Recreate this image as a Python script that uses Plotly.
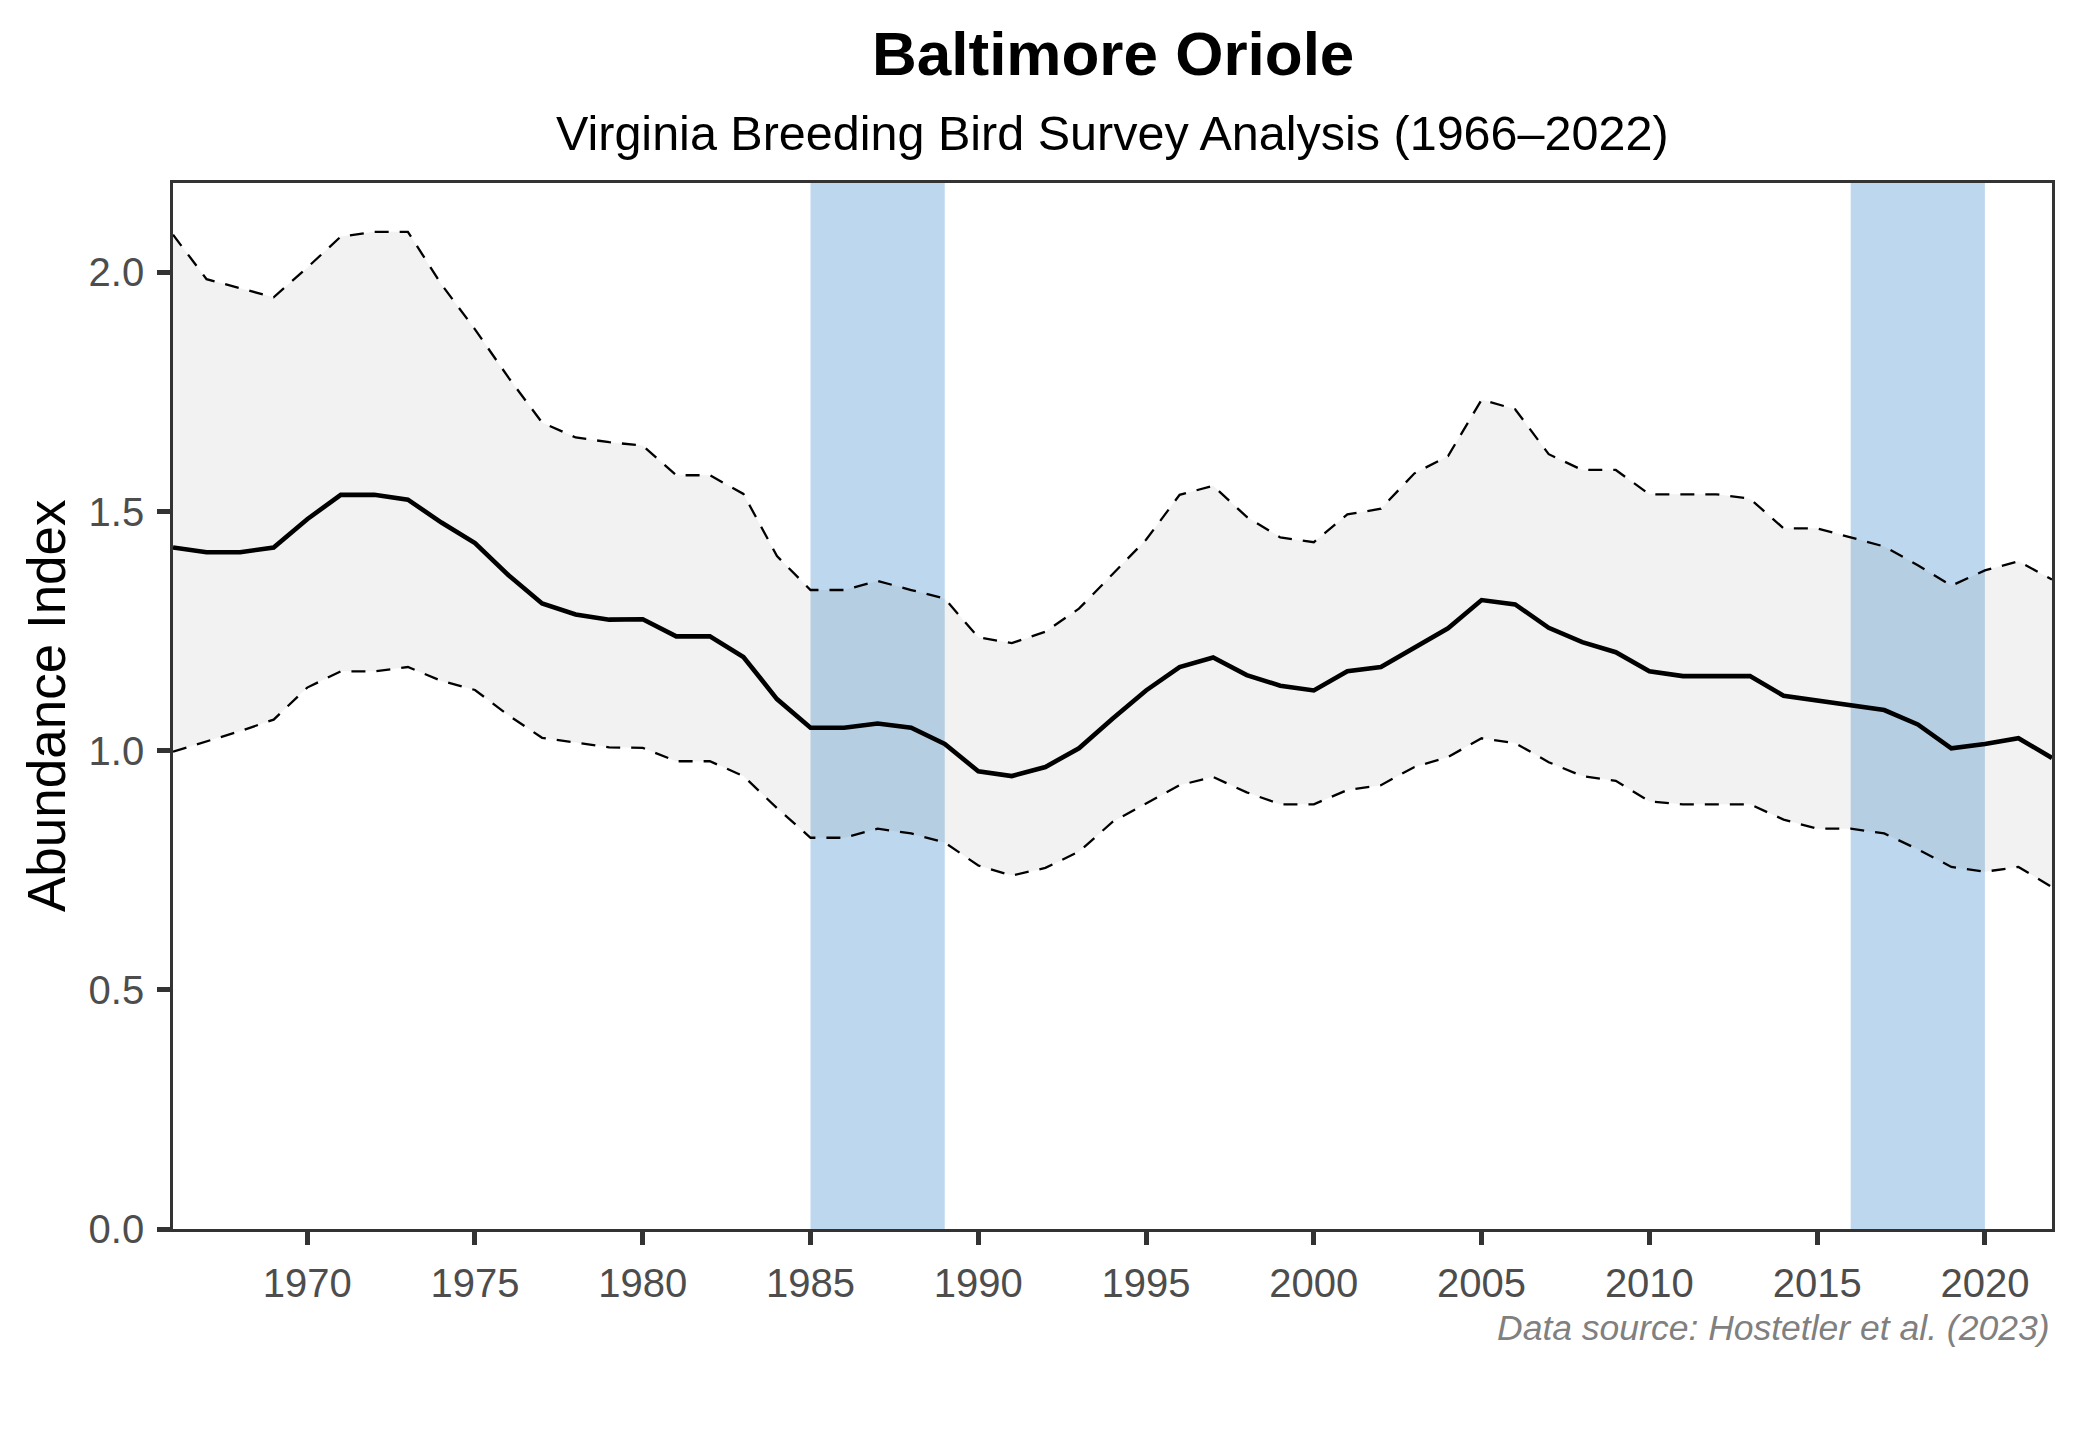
import plotly.graph_objects as go

years = list(range(1966, 2023))

index_vals = [1.425, 1.415, 1.415, 1.425, 1.484, 1.535, 1.535, 1.525, 1.477, 1.434,
              1.367, 1.308, 1.285, 1.274, 1.275, 1.239, 1.239, 1.196, 1.108, 1.048,
              1.048, 1.057, 1.048, 1.014, 0.957, 0.947, 0.966, 1.005, 1.067, 1.126,
              1.175, 1.195, 1.158, 1.136, 1.126, 1.166, 1.175, 1.216, 1.256, 1.315,
              1.306, 1.257, 1.227, 1.206, 1.166, 1.156, 1.156, 1.156, 1.115, 1.105,
              1.095, 1.085, 1.055, 1.005, 1.014, 1.026, 0.985]

upper_vals = [2.079, 1.986, 1.967, 1.948, 2.010, 2.075, 2.085, 2.085, 1.975, 1.881,
              1.780, 1.686, 1.655, 1.645, 1.638, 1.576, 1.576, 1.537, 1.407, 1.336,
              1.336, 1.355, 1.336, 1.318, 1.237, 1.225, 1.249, 1.297, 1.369, 1.441,
              1.535, 1.554, 1.489, 1.446, 1.436, 1.494, 1.506, 1.580, 1.616, 1.734,
              1.714, 1.620, 1.587, 1.587, 1.536, 1.536, 1.536, 1.527, 1.465, 1.465,
              1.446, 1.427, 1.388, 1.345, 1.377, 1.396, 1.358]

lower_vals = [0.998, 1.020, 1.041, 1.065, 1.132, 1.166, 1.166, 1.175, 1.146, 1.127,
              1.074, 1.027, 1.017, 1.007, 1.006, 0.978, 0.978, 0.947, 0.880, 0.818,
              0.818, 0.837, 0.827, 0.808, 0.760, 0.739, 0.755, 0.789, 0.851, 0.889,
              0.928, 0.945, 0.913, 0.888, 0.888, 0.918, 0.928, 0.966, 0.987, 1.026,
              1.016, 0.976, 0.947, 0.937, 0.894, 0.888, 0.888, 0.888, 0.856, 0.837,
              0.837, 0.827, 0.794, 0.757, 0.747, 0.757, 0.715]

highlight_start = [1985, 2016]
highlight_end = [1989, 2020]

x_tickvals = [1970, 1975, 1980, 1985, 1990, 1995, 2000, 2005, 2010, 2015, 2020]
x_ticktext = [str(v) for v in x_tickvals]
y_tickvals = [0.0, 0.5, 1.0, 1.5, 2.0]
y_ticktext = ["0.0", "0.5", "1.0", "1.5", "2.0"]

title_text = "Baltimore Oriole"
subtitle_text = "Virginia Breeding Bird Survey Analysis (1966\u20132022)"
y_title_text = "Abundance Index"
caption_text = "Data source: Hostetler et al. (2023)"

FONT = "Liberation Sans, Arial, Helvetica, sans-serif"

fig = go.Figure()

# ribbon
fig.add_trace(go.Scatter(x=years, y=lower_vals, mode="lines", line=dict(width=0),
                         hoverinfo="skip", showlegend=False))
fig.add_trace(go.Scatter(x=years, y=upper_vals, mode="lines", line=dict(width=0),
                         fill="tonexty", fillcolor="rgba(127,127,127,0.10)",
                         hoverinfo="skip", showlegend=False))
# CI dashed lines
fig.add_trace(go.Scatter(x=years, y=upper_vals, mode="lines",
                         line=dict(color="black", width=2.3, dash="14px,11px"),
                         showlegend=False))
fig.add_trace(go.Scatter(x=years, y=lower_vals, mode="lines",
                         line=dict(color="black", width=2.3, dash="14px,11px"),
                         showlegend=False))
# main line
fig.add_trace(go.Scatter(x=years, y=index_vals, mode="lines",
                         line=dict(color="black", width=4.6),
                         showlegend=False))

for s, e in zip(highlight_start, highlight_end):
    fig.add_shape(type="rect", xref="x", yref="y domain", x0=s, x1=e, y0=0, y1=1,
                  fillcolor="#BDD7EE", line=dict(width=0), layer="below")

axis_common = dict(showline=True, linecolor="#333333", linewidth=2.7, mirror=True,
                   ticks="outside", ticklen=13, tickwidth=4.5, tickcolor="#333333",
                   showgrid=False, zeroline=False,
                   tickfont=dict(family=FONT, size=40, color="#4D4D4D"))

fig.update_xaxes(range=[1966, 2022], tickvals=x_tickvals, ticktext=x_ticktext,
                 ticklabelstandoff=4, **axis_common)
fig.update_yaxes(range=[0, 2.187], tickvals=y_tickvals, ticktext=y_ticktext,
                 ticklabelstandoff=5, **axis_common)

fig.update_layout(
    width=2080, height=1440,
    margin=dict(l=173, r=28, t=183, b=211, pad=0),
    paper_bgcolor="white", plot_bgcolor="white",
    font=dict(family=FONT),
    annotations=[
        dict(text=title_text, xref="paper", yref="paper", x=0.5, y=1, xanchor="center",
             yanchor="middle", yshift=130, showarrow=False,
             font=dict(family=FONT, size=62, color="black", weight="bold")),
        dict(text=subtitle_text, xref="paper", yref="paper", x=0.5, y=1, xanchor="center",
             yanchor="middle", yshift=50, showarrow=False,
             font=dict(family=FONT, size=48.5, color="black")),
        dict(text=y_title_text, xref="paper", yref="paper", x=0, y=0.5, xanchor="center",
             yanchor="middle", xshift=-127, textangle=-90, showarrow=False,
             font=dict(family=FONT, size=53, color="black")),
        dict(text=caption_text, xref="paper", yref="paper", x=1, y=0, xanchor="right",
             yanchor="middle", yshift=-99, showarrow=False,
             font=dict(family=FONT, size=35.5, color="#808080", style="italic")),
    ],
)

fig.write_html("out.html", config={"displayModeBar": False},
               post_script="document.body.style.margin='0';document.body.style.overflow='hidden';")
